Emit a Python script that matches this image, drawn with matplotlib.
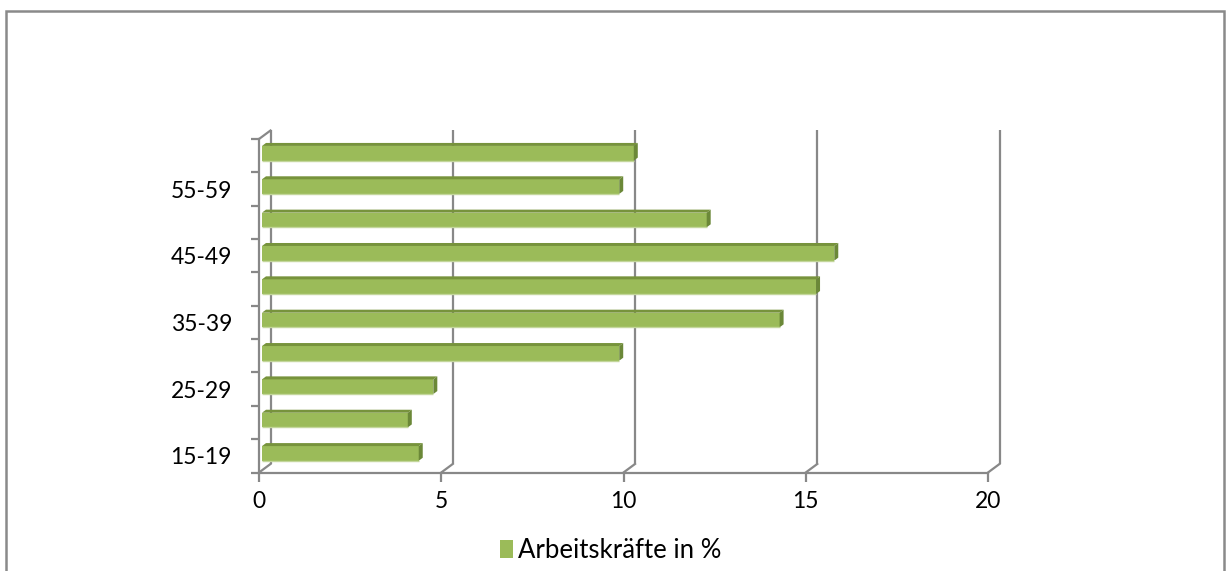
import matplotlib
matplotlib.use("Agg")
import matplotlib.pyplot as plt
import matplotlib.transforms as mtransforms
from matplotlib.patches import Polygon, Rectangle, Patch
import numpy as np

# --- data -------------------------------------------------------------
age_groups = ["15-19", "20-24", "25-29", "30-34", "35-39",
              "40-44", "45-49", "50-54", "55-59", "60-64"]
workers_pct = [4.3, 4.0, 4.7, 9.8, 14.2, 15.2, 15.7, 12.2, 9.8, 10.2]
x_ticks = [0, 5, 10, 15, 20]
series_label = "Arbeitskräfte in %"

# --- style ------------------------------------------------------------
plt.rcParams['font.family'] = ['Lato', 'DejaVu Sans']
FS = 16.5
LEGEND_FS = 18.5
GRID = '#888888'
GRID_LW = 1.6
FACE = '#9BBB59'
TOP = '#77933C'
SIDE = '#6B8838'
EDGE_LIGHT = '#C3D69B'

WALL = (11.5, 8.5)     # depth of the back wall, in pixels
BAR_PLANE = (3.0, 2.4)  # where the bar fronts sit inside the depth
BAR_DEPTH = (4.0, 3.0)  # thickness of each bar
BAR_H = 0.44

W, H = 1230, 571
fig = plt.figure(figsize=(W / 100, H / 100), dpi=100)
fig.patch.set_facecolor('white')

ax = fig.add_axes([259 / W, (H - 472.5) / H, (988 - 259) / W, (472.5 - 139) / H])
ax.set_xlim(0, 20)
ax.set_ylim(-0.5, len(age_groups) - 0.5)
ax.set_facecolor('none')

# pixel offsets -> data offsets
sx = (ax.get_xlim()[1] - ax.get_xlim()[0]) / ax.bbox.width
sy = (ax.get_ylim()[1] - ax.get_ylim()[0]) / ax.bbox.height


def off(d):
    return d[0] * sx, d[1] * sy


y0, y1 = ax.get_ylim()
wdx, wdy = off(WALL)

# back wall gridlines and floor diagonals
for t in x_ticks:
    ax.plot([t + wdx, t + wdx], [y0 + wdy, y1 + wdy], color=GRID, lw=GRID_LW,
            zorder=1, clip_on=False, solid_capstyle='butt')
    ax.plot([t, t + wdx], [y0, y0 + wdy], color=GRID, lw=GRID_LW,
            zorder=1, clip_on=False)
# top edge of the left wall
ax.plot([0, wdx], [y1, y1 + wdy], color=GRID, lw=GRID_LW, zorder=1, clip_on=False)

# bars
ypos = np.arange(len(age_groups))
front_tr = mtransforms.offset_copy(ax.transData, fig=fig,
                                   x=BAR_PLANE[0], y=BAR_PLANE[1], units='dots')
ax.barh(ypos, workers_pct, height=BAR_H, left=0, color=FACE,
        transform=front_tr, zorder=3, clip_on=False, linewidth=0)

pdx, pdy = off(BAR_PLANE)
bdx, bdy = off(BAR_DEPTH)
for y, v in zip(ypos, workers_pct):
    yt = y + BAR_H / 2 + pdy
    yb = y - BAR_H / 2 + pdy
    x0 = pdx
    x1 = v + pdx
    top = Polygon([(x0, yt), (x1, yt), (x1 + bdx, yt + bdy), (x0 + bdx, yt + bdy)],
                  closed=True, facecolor=TOP, edgecolor='none', zorder=3, clip_on=False)
    side = Polygon([(x1, yb), (x1 + bdx, yb + bdy), (x1 + bdx, yt + bdy), (x1, yt)],
                   closed=True, facecolor=SIDE, edgecolor='none', zorder=3, clip_on=False)
    ax.add_patch(top)
    ax.add_patch(side)
    ax.plot([x0, x1], [yb, yb], color=EDGE_LIGHT, lw=1.0, zorder=4,
            clip_on=False, solid_capstyle='butt')

# axes lines
for s in ('top', 'right'):
    ax.spines[s].set_visible(False)
for s in ('left', 'bottom'):
    ax.spines[s].set_color(GRID)
    ax.spines[s].set_linewidth(GRID_LW)
    ax.spines[s].set_zorder(5)

ax.set_xticks(x_ticks)
ax.set_xticklabels([str(t) for t in x_ticks], fontsize=FS, color='black')
ax.tick_params(axis='x', length=6.5, width=GRID_LW, color=GRID, pad=7)

ax.set_yticks(ypos[::2])
ax.set_yticklabels(age_groups[::2], fontsize=FS, color='black')
ax.set_yticks(np.arange(-0.5, len(age_groups), 1.0), minor=True)
ax.tick_params(axis='y', which='major', length=0, pad=19.5)
ax.tick_params(axis='y', which='minor', length=5.8, width=GRID_LW, color=GRID)

# legend
fig.legend(handles=[Patch(facecolor=FACE, edgecolor='none')], labels=[series_label],
           loc='center', bbox_to_anchor=(611 / W, 1 - 550 / H), frameon=False,
           handlelength=0.5, handleheight=0.7, handletextpad=0.2, fontsize=LEGEND_FS)

# chart border
fig.add_artist(Rectangle((6 / W, -0.02), (1224 - 6) / W, 1.02 - 11 / H,
                         transform=fig.transFigure, fill=False,
                         edgecolor='#8A8A8A', lw=1.8))

fig.savefig('out.png', dpi=100, facecolor='white')
